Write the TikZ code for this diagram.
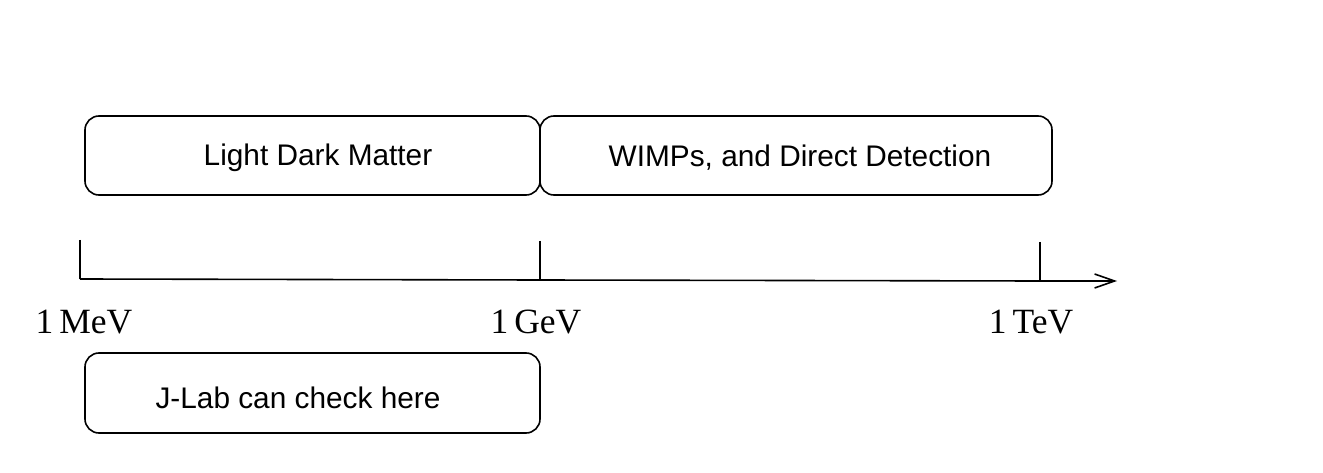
\documentclass[tikz,border=0pt]{standalone}
\usepackage{fontspec}
\setmainfont{Liberation Serif}
\newfontfamily\boxfont{Liberation Sans}
\usetikzlibrary{arrows.meta}
\begin{document}
\begin{tikzpicture}[x=1pt,y=-1pt,
  rbox/.style={draw, line width=1.6pt, rounded corners=14pt, inner sep=0pt},
  boxtext/.style={font=\boxfont\fontsize{29.8}{36}\selectfont, inner sep=0pt},
  scale label/.style={font=\fontsize{35.5}{42}\selectfont, inner sep=0pt},
  axis line/.style={line width=1.6pt},
  tick/.style={line width=1.6pt}]
\useasboundingbox (0,0) rectangle (1323,473);
% boxes
\node[rbox, minimum width=455pt, minimum height=79pt] (ldm) at (312.5,155.5) {};
\node[rbox, minimum width=512pt, minimum height=79pt] (wimp) at (796,155.5) {};
\node[rbox, minimum width=455pt, minimum height=80pt] (jlab) at (312.5,393) {};
\node[boxtext] (ldmt) at (318,158) {Light Dark Matter};
\node[boxtext] (wimpt) at (800,158) {WIMPs, and Direct Detection};
\node[boxtext] (jlabt) at (298,397.5) {J-Lab can check here};
% axis
\coordinate (a0) at (80,279);
\coordinate (a1) at (540,280);
\coordinate (a2) at (1040,281);
\coordinate (aend) at (1117,281);
\coordinate (t0) at (80,240);
\coordinate (t1) at (540,241);
\coordinate (t2) at (1040,242);
\draw[axis line, -{Straight Barb[length=20pt,width=14pt,line width=1.6pt]}] (a0) -- (a1) -- (a2) -- (aend);
\draw[tick] (t0) -- (a0);
\draw[tick] (t1) -- (a1);
\draw[tick] (t2) -- (a2);
% labels
\node[scale label] (mev) at (84,322) {1\,MeV};
\node[scale label] (gev) at (536,322) {1\,GeV};
\node[scale label] (tev) at (1031,322) {1\,TeV};
\end{tikzpicture}
\end{document}
